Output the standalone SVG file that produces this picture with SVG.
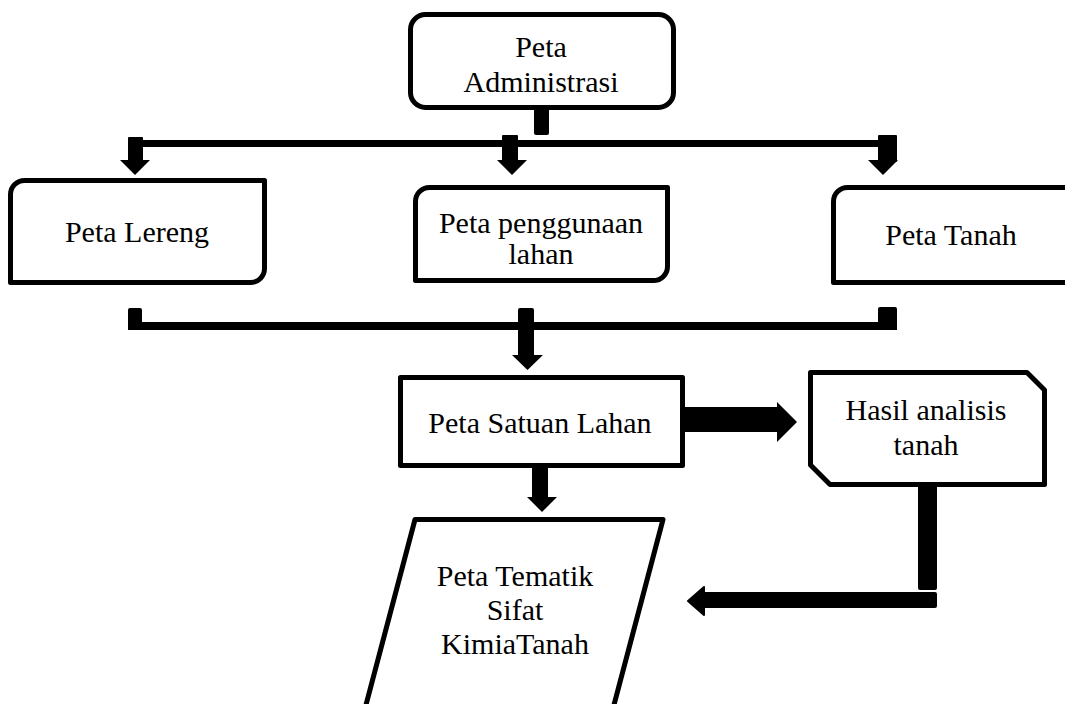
<svg xmlns="http://www.w3.org/2000/svg" width="1065" height="704" viewBox="0 0 1065 704">
<style>
.box{fill:#fff;stroke:#000;stroke-width:5;stroke-linejoin:round}
.t{font-family:"Liberation Serif","Times New Roman",serif;font-size:30px;fill:#000;text-anchor:middle}
.c{fill:#000}
</style>
<rect width="1065" height="704" fill="#fff"/>
<g id="connectors">
<rect class="c" x="534" y="108" width="15" height="27" rx="2"/>
<rect class="c" x="128" y="140" width="769" height="7"/>
<rect class="c" x="128" y="137" width="15" height="25" rx="1"/>
<polygon class="c" points="120,160 150,160 135,175"/>
<rect class="c" x="502" y="135" width="16" height="27" rx="1"/>
<polygon class="c" points="497,160 527,160 512,175"/>
<rect class="c" x="878" y="135" width="19" height="27" rx="1"/>
<polygon class="c" points="868,160 898,160 883,175"/>
<rect class="c" x="128" y="322" width="769" height="8"/>
<rect class="c" x="128" y="308" width="14" height="22" rx="2"/>
<rect class="c" x="878" y="307" width="19" height="23" rx="2"/>
<rect class="c" x="518" y="308" width="16" height="49" rx="2"/>
<polygon class="c" points="512,355 543,355 527.5,370"/>
<rect class="c" x="683" y="407" width="94" height="25"/>
<polygon class="c" points="777,402 777,442 797,422"/>
<rect class="c" x="532" y="468" width="16" height="31"/>
<polygon class="c" points="527,497 557,497 542,512"/>
<rect class="c" x="918" y="485" width="19" height="105" rx="2"/>
<rect class="c" x="703" y="592" width="234" height="16" rx="2"/>
<polygon class="c" points="704,587 704,615 688,601" stroke="#000" stroke-width="2" stroke-linejoin="round"/>
</g>
<g id="node-admin">
<rect class="box" x="410.5" y="14.5" width="263" height="93" rx="15"/>
<text class="t" x="541" y="57">Peta</text>
<text class="t" x="541" y="92">Administrasi</text>
</g>
<g id="node-lereng">
<path class="box" d="M24.5,180.5 H264.5 V268.5 A14,14 0 0 1 250.5,282.5 H10.5 V194.5 A14,14 0 0 1 24.5,180.5 Z"/>
<text class="t" x="137" y="242">Peta Lereng</text>
</g>
<g id="node-penggunaan">
<path class="box" d="M429.5,187.5 H667.5 V266.5 A14,14 0 0 1 653.5,280.5 H415.5 V201.5 A14,14 0 0 1 429.5,187.5 Z"/>
<text class="t" x="541" y="233">Peta penggunaan</text>
<text class="t" x="541" y="264">lahan</text>
</g>
<g id="node-tanah">
<path class="box" d="M847.5,187.5 H1068 V282.5 H833.5 V201.5 A14,14 0 0 1 847.5,187.5 Z"/>
<text class="t" x="951" y="245">Peta Tanah</text>
</g>
<g id="node-satuan">
<rect class="box" x="400.5" y="377.5" width="282" height="88"/>
<text class="t" x="540" y="433">Peta Satuan Lahan</text>
</g>
<g id="node-hasil">
<path class="box" d="M810.5,372.5 H1027 L1044.5,390 V484.5 H830 L810.5,465 Z"/>
<text class="t" x="926" y="420">Hasil analisis</text>
<text class="t" x="926" y="455">tanah</text>
</g>
<g id="node-tematik">
<polygon class="box" points="415,519.5 663,519.5 610,720 362,720"/>
<text class="t" x="515" y="586">Peta Tematik</text>
<text class="t" x="515" y="620">Sifat</text>
<text class="t" x="515" y="654">KimiaTanah</text>
</g>
</svg>
